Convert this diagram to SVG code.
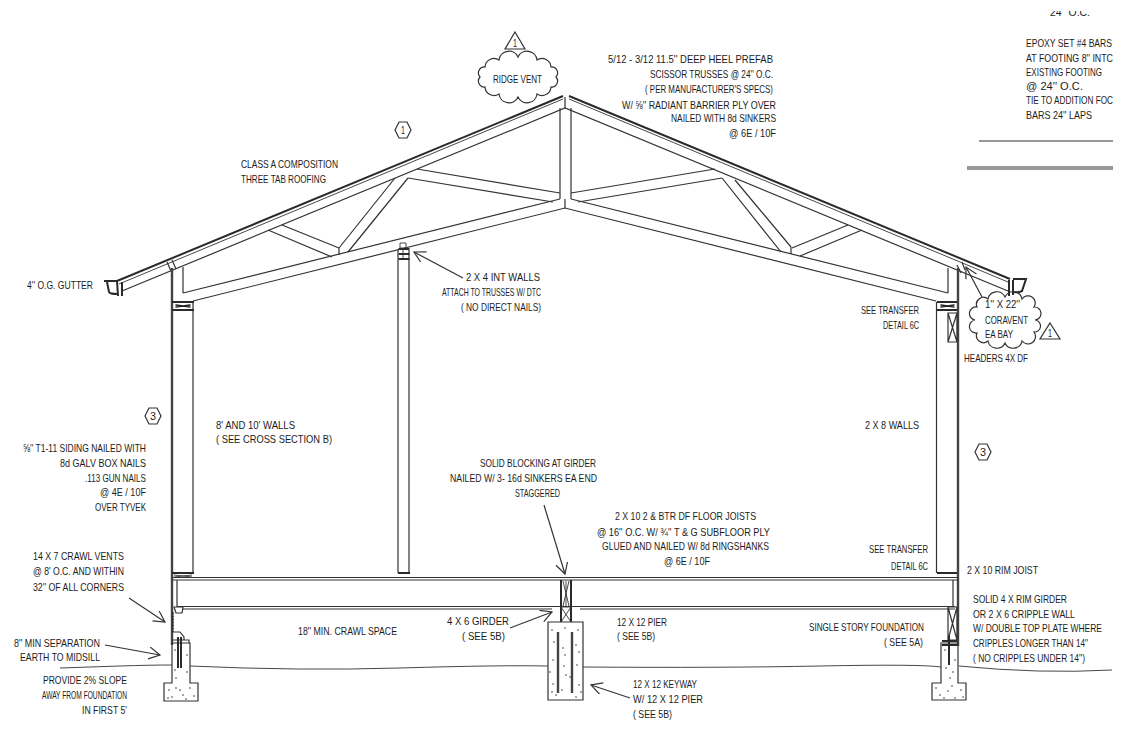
<svg xmlns="http://www.w3.org/2000/svg" width="1126" height="751" viewBox="0 0 1126 751">
<style>
text{font-family:"Liberation Sans Narrow","Liberation Sans",Arial,sans-serif;font-size:11.5px;fill:#1c1c1c}
.l{fill:none;stroke:#333;stroke-width:1.2}
.h{fill:none;stroke:#2a2a2a;stroke-width:2}
.t{fill:none;stroke:#333;stroke-width:.9}
.a{fill:none;stroke:#333;stroke-width:1.2}
.s{fill:none;stroke:#222;stroke-width:1.5;stroke-linecap:round}
.b{fill:none;stroke:#444;stroke-width:2.4}
</style>
<defs>
<clipPath id="topclip"><rect x="1040" y="11" width="60" height="5"/></clipPath>
<marker id="arr" markerWidth="14" markerHeight="14" refX="12" refY="6" orient="auto" markerUnits="userSpaceOnUse"><path d="M1 0L12 6L1 12" fill="none" stroke="#333" stroke-width="1.2"/></marker>
</defs>
<rect width="1126" height="751" fill="#fff"/>

<g id="truss">
<path class="h" d="M117 281L563 96"/><path class="t" d="M119 284L563 99"/>
<path class="h" d="M569 96L1010 279"/><path class="t" d="M569 99L1008 282"/>
<path class="l" d="M122 291L565 108L1008 291"/>
<path class="l" d="M183 293L560 199M193 301L565 208L936 301M571 199L948 293"/>
<path class="l" d="M560 108V193M571 108V193M560 193V199M571 193V199M565 97V108M565 199V208"/>
<path class="l" d="M417 169L560 193M408 178L553 202M715 169L571 193M722 178L578 202"/>
<path class="l" d="M339 248L395 178M348 252L408 178M781 252L722 178M791 247L735 180M791 247V254M339 248V255"/>
<path class="l" d="M282 225L339 248M268 230L332 257M848 225L792 248M862 230L800 256"/>
</g>

<g id="gutter-left"><path class="h" d="M104 281H117M107 282L109 292Q110 294 117 294"/><path class="h" d="M117 281L118 296M122 282V296"/><path class="l" d="M167 262L171 271M172 260L176 269"/></g>
<g id="gutter-right"><path class="h" d="M1013 279H1026L1022 291Q1018 293 1014 292"/><path class="h" d="M1009 280V296M1013 280V295"/><path class="l" d="M957 265L961 273M962 262L965 270"/></g>

<g id="wall-left">
<path class="b" d="M172 268V645"/><path class="l" d="M183 267V293M193 302V573"/>
<path class="h" d="M172 302H194M172 310H194"/><path class="s" d="M176 305L190 307M176 307L190 305"/>
<path class="h" d="M172 573H194"/><path class="t" d="M174 575L192 577M174 577L192 575"/>
</g>
<g id="wall-interior">
<path class="l" d="M398 250V573M409 250V573"/>
<path class="t" d="M400 243H406V248H400Z"/>
<path class="h" d="M398.500 249H409.500M398.500 254H409.500M398.500 259H409.500"/><path class="t" d="M403 248V259"/>
<path class="h" d="M398 573H410"/>
</g>
<g id="wall-right">
<path class="b" d="M958 268V646"/><path class="l" d="M948 268V293M936.500 302V573"/>
<path class="h" d="M937 302H957M937 310H957"/><path class="s" d="M941 305L954 307M941 307L954 305"/>
<path class="l" d="M948 313H957V342H948ZM948 313L957 342M957 313L948 342"/>
<path class="h" d="M937 573H957"/>
</g>
<g id="floor">
<path class="l" d="M172 577.500H958M172 580H958M177 580V607M177 606.500H955M183 609H552M580 609H955M953 580V607"/>
</g>
<g id="foundation-left">
<path class="l" d="M172 643H190V683H198V701H164V683H172Z"/>
<path class="l" d="M174 607H183L182 613H176ZM174 632H180L184 637V640M172 640H189V643"/>
<path class="s" d="M173 613V632" stroke-dasharray="1 2"/>
<path class="h" d="M178 637V668M181 637V668"/>
<path class="s" d="M175 650h.01M187 655h.01M175 670h.01M187 672h.01M176 678h.01M169 690h.01M172 697h.01M176 688h.01M183 695h.01M180 690h.01M190 688h.01M194 696h.01M186 699h.01M168 698h.01"/>
</g>
<g id="foundation-center">
<path class="l" d="M548 622H583V700H548Z"/>
<path class="b" d="M558 632V693M572 632V693"/>
<path class="s" d="M552 630h.01M565 628h.01M578 630h.01M554 642h.01M563 648h.01M576 645h.01M579 652h.01M553 660h.01M565 655h.01M577 665h.01M550 672h.01M566 675h.01M570 677h.01M579 685h.01M552 692h.01M556 695h.01M562 690h.01M576 697h.01M581 692h.01M553 684h.01M564 666h.01"/>
<path class="h" d="M561 580V622M571 580V622"/>
<path class="t" d="M561 607L571 622M571 607L561 622M561 607H571"/>
<path class="t" d="M563 581L569 606M569 581L563 606M566 581V606"/>
</g>
<g id="foundation-right">
<path class="l" d="M941 643H958V683H966V700H932V683H941Z"/>
<path class="l" d="M948 607H957V640H948ZM948 607L957 640M957 607L948 640"/>
<path class="h" d="M942 641H957M942 645H957M949 636V665"/>
<path class="s" d="M945 650h.01M953 672h.01M950 678h.01M955 660h.01M936 688h.01M940 695h.01M948 691h.01M952 686h.01M955 698h.01M961 690h.01M963 697h.01M944 698h.01M946 668h.01"/>
</g>
<g id="ground"><path class="t" d="M60 668Q90 667 120 666T172 665M190 666Q300 671 400 668T548 666M583 667Q720 668 820 666T941 667M959 666Q1040 674 1112 670"/></g>

<g id="connectors">
<path class="a" marker-end="url(#arr)" d="M463 278L414 252"/>
<path class="a" marker-end="url(#arr)" d="M982 297L966 267"/>
<path class="a" marker-end="url(#arr)" d="M544 505L565 574"/>
<path class="a" marker-end="url(#arr)" d="M129 598L165 622"/>
<path class="a" marker-end="url(#arr)" d="M105 645L160 655"/>
<path class="a" marker-end="url(#arr)" d="M510 628L552 612"/>
<path class="a" marker-end="url(#arr)" d="M630 698L591 685"/>
</g>

<g id="sheet-lines"><path class="l" d="M979 141H1113M967 167H1113M967 169H1113"/></g>

<g id="ridge-vent"><path class="l" d="M556 77A6 6 0 0 1 551 87A9 9 0 0 1 537 94A10 10 0 0 1 518 97A10 10 0 0 1 499 94A9 9 0 0 1 485 87A6 6 0 0 1 480 77A6 6 0 0 1 485 67A9 9 0 0 1 499 60A10 10 0 0 1 518 57A10 10 0 0 1 537 60A9 9 0 0 1 551 67A6 6 0 0 1 556 77Z"/><text x="493" y="83" textLength="49" lengthAdjust="spacingAndGlyphs">RIDGE VENT</text></g>
<g id="coravent"><path class="l" d="M1035 320A6 6 0 0 1 1034 332A7 7 0 0 1 1022 341A9 9 0 0 1 1005 343A9 9 0 0 1 988 341A7 7 0 0 1 977 333A6 6 0 0 1 975 320A6 6 0 0 1 977 307A7 7 0 0 1 988 299A9 9 0 0 1 1005 297A9 9 0 0 1 1022 299A7 7 0 0 1 1034 307A6 6 0 0 1 1035 320Z"/>
<text x="985" y="308" textLength="35" lengthAdjust="spacingAndGlyphs">1'' X 22''</text><text x="985" y="324" textLength="43" lengthAdjust="spacingAndGlyphs">CORAVENT</text><text x="985" y="338" textLength="28" lengthAdjust="spacingAndGlyphs">EA BAY</text></g>

<g id="tag-tri-1"><path class="l" d="M515 32L525 49H505Z"/><text x="513" y="47" textLength="4" lengthAdjust="spacingAndGlyphs">1</text></g>
<g id="tag-tri-2"><path class="l" d="M1050 323L1060 339H1040Z"/><text x="1048" y="337" textLength="4" lengthAdjust="spacingAndGlyphs">1</text></g>
<g id="tag-hex-1"><path class="l" d="M395 130L399 122H407L411 130L407 138H399Z"/><text x="401" y="134" textLength="4" lengthAdjust="spacingAndGlyphs">1</text></g>
<g id="tag-hex-3a"><path class="l" d="M145 416L149 408H157L161 416L157 424H149Z"/><text x="150" y="420" textLength="6" lengthAdjust="spacingAndGlyphs">3</text></g>
<g id="tag-hex-3b"><path class="l" d="M975 452L979 444H987L991 452L987 460H979Z"/><text x="980" y="456" textLength="6" lengthAdjust="spacingAndGlyphs">3</text></g>

<g id="labels">
<text x="608" y="63" textLength="165" lengthAdjust="spacingAndGlyphs">5/12 - 3/12  11.5'' DEEP HEEL PREFAB</text>
<text x="650" y="78" textLength="123" lengthAdjust="spacingAndGlyphs">SCISSOR TRUSSES @ 24'' O.C.</text>
<text x="645" y="93" textLength="128" lengthAdjust="spacingAndGlyphs">( PER MANUFACTURER'S SPECS)</text>
<text x="622" y="109" textLength="154" lengthAdjust="spacingAndGlyphs">W/  ⅝'' RADIANT BARRIER PLY OVER</text>
<text x="671" y="122" textLength="105" lengthAdjust="spacingAndGlyphs">NAILED WITH 8d SINKERS</text>
<text x="729" y="137" textLength="47" lengthAdjust="spacingAndGlyphs">@ 6E / 10F</text>
<text x="1050" y="16" textLength="40" lengthAdjust="spacingAndGlyphs" clip-path="url(#topclip)">24'' O.C.</text>
<text x="1026" y="47" textLength="86" lengthAdjust="spacingAndGlyphs">EPOXY SET #4 BARS</text>
<text x="1026" y="62" textLength="87" lengthAdjust="spacingAndGlyphs">AT FOOTING 8'' INTC</text>
<text x="1026" y="76" textLength="76" lengthAdjust="spacingAndGlyphs">EXISTING FOOTING</text>
<text x="1026" y="90" textLength="57" lengthAdjust="spacingAndGlyphs">@ 24'' O.C.</text>
<text x="1026" y="104" textLength="87" lengthAdjust="spacingAndGlyphs">TIE TO ADDITION FOC</text>
<text x="1026" y="119" textLength="66" lengthAdjust="spacingAndGlyphs">BARS 24'' LAPS</text>
<text x="241" y="168" textLength="97" lengthAdjust="spacingAndGlyphs">CLASS A COMPOSITION</text>
<text x="241" y="183" textLength="85" lengthAdjust="spacingAndGlyphs">THREE TAB ROOFING</text>
<text x="27" y="289" textLength="66" lengthAdjust="spacingAndGlyphs">4'' O.G. GUTTER</text>
<text x="466" y="281" textLength="74" lengthAdjust="spacingAndGlyphs">2 X 4 INT WALLS</text>
<text x="442" y="296" textLength="99" lengthAdjust="spacingAndGlyphs">ATTACH TO TRUSSES W/ DTC</text>
<text x="461" y="311" textLength="80" lengthAdjust="spacingAndGlyphs">( NO DIRECT NAILS)</text>
<text x="861" y="314" textLength="58" lengthAdjust="spacingAndGlyphs">SEE TRANSFER</text>
<text x="883" y="329" textLength="36" lengthAdjust="spacingAndGlyphs">DETAIL 6C</text>
<text x="964" y="362" textLength="64" lengthAdjust="spacingAndGlyphs">HEADERS 4X DF</text>
<text x="216" y="429" textLength="79" lengthAdjust="spacingAndGlyphs">8' AND 10' WALLS</text>
<text x="216" y="443" textLength="116" lengthAdjust="spacingAndGlyphs">( SEE CROSS SECTION B)</text>
<text x="865" y="429" textLength="54" lengthAdjust="spacingAndGlyphs">2 X 8 WALLS</text>
<text x="23" y="452" textLength="123" lengthAdjust="spacingAndGlyphs">⅝'' T1-11 SIDING NAILED WITH</text>
<text x="60" y="467" textLength="86" lengthAdjust="spacingAndGlyphs">8d GALV BOX NAILS</text>
<text x="85" y="482" textLength="61" lengthAdjust="spacingAndGlyphs">.113 GUN NAILS</text>
<text x="100" y="496" textLength="46" lengthAdjust="spacingAndGlyphs">@ 4E / 10F</text>
<text x="95" y="511" textLength="51" lengthAdjust="spacingAndGlyphs">OVER TYVEK</text>
<text x="480" y="467" textLength="116" lengthAdjust="spacingAndGlyphs">SOLID BLOCKING AT GIRDER</text>
<text x="450" y="482" textLength="147" lengthAdjust="spacingAndGlyphs">NAILED W/  3- 16d SINKERS EA END</text>
<text x="515" y="497" textLength="45" lengthAdjust="spacingAndGlyphs">STAGGERED</text>
<text x="615" y="520" textLength="141" lengthAdjust="spacingAndGlyphs">2 X 10  2 &amp; BTR DF FLOOR JOISTS</text>
<text x="597" y="536" textLength="173" lengthAdjust="spacingAndGlyphs">@ 16'' O.C. W/  ¾'' T &amp; G SUBFLOOR PLY</text>
<text x="602" y="550" textLength="167" lengthAdjust="spacingAndGlyphs">GLUED AND NAILED W/  8d RINGSHANKS</text>
<text x="664" y="565" textLength="46" lengthAdjust="spacingAndGlyphs">@ 6E / 10F</text>
<text x="869" y="553" textLength="59" lengthAdjust="spacingAndGlyphs">SEE TRANSFER</text>
<text x="891" y="570" textLength="37" lengthAdjust="spacingAndGlyphs">DETAIL 6C</text>
<text x="967" y="574" textLength="71" lengthAdjust="spacingAndGlyphs">2 X 10 RIM JOIST</text>
<text x="973" y="603" textLength="94" lengthAdjust="spacingAndGlyphs">SOLID 4 X RIM GIRDER</text>
<text x="973" y="618" textLength="102" lengthAdjust="spacingAndGlyphs">OR 2 X 6 CRIPPLE WALL</text>
<text x="973" y="632" textLength="129" lengthAdjust="spacingAndGlyphs">W/  DOUBLE TOP PLATE WHERE</text>
<text x="973" y="647" textLength="115" lengthAdjust="spacingAndGlyphs">CRIPPLES LONGER THAN 14''</text>
<text x="973" y="662" textLength="112" lengthAdjust="spacingAndGlyphs">( NO CRIPPLES UNDER 14'')</text>
<text x="33" y="560" textLength="91" lengthAdjust="spacingAndGlyphs">14 X 7 CRAWL VENTS</text>
<text x="33" y="575" textLength="91" lengthAdjust="spacingAndGlyphs">@ 8' O.C. AND WITHIN</text>
<text x="33" y="591" textLength="91" lengthAdjust="spacingAndGlyphs">32'' OF ALL CORNERS</text>
<text x="14" y="647" textLength="86" lengthAdjust="spacingAndGlyphs">8'' MIN SEPARATION</text>
<text x="20" y="661" textLength="80" lengthAdjust="spacingAndGlyphs">EARTH TO MIDSILL</text>
<text x="43" y="684" textLength="84" lengthAdjust="spacingAndGlyphs">PROVIDE 2% SLOPE</text>
<text x="42" y="699" textLength="85" lengthAdjust="spacingAndGlyphs">AWAY FROM FOUNDATION</text>
<text x="82" y="714" textLength="45" lengthAdjust="spacingAndGlyphs">IN FIRST 5'</text>
<text x="298" y="635" textLength="99" lengthAdjust="spacingAndGlyphs">18'' MIN. CRAWL SPACE</text>
<text x="447" y="625" textLength="62" lengthAdjust="spacingAndGlyphs">4 X 6 GIRDER</text>
<text x="462" y="640" textLength="43" lengthAdjust="spacingAndGlyphs">( SEE 5B)</text>
<text x="617" y="626" textLength="50" lengthAdjust="spacingAndGlyphs">12 X 12 PIER</text>
<text x="617" y="640" textLength="38" lengthAdjust="spacingAndGlyphs">( SEE 5B)</text>
<text x="809" y="631" textLength="115" lengthAdjust="spacingAndGlyphs">SINGLE STORY FOUNDATION</text>
<text x="884" y="646" textLength="39" lengthAdjust="spacingAndGlyphs">( SEE 5A)</text>
<text x="633" y="688" textLength="64" lengthAdjust="spacingAndGlyphs">12 X 12 KEYWAY</text>
<text x="633" y="703" textLength="70" lengthAdjust="spacingAndGlyphs">W/  12 X 12 PIER</text>
<text x="633" y="718" textLength="39" lengthAdjust="spacingAndGlyphs">( SEE 5B)</text>
</g>
</svg>
